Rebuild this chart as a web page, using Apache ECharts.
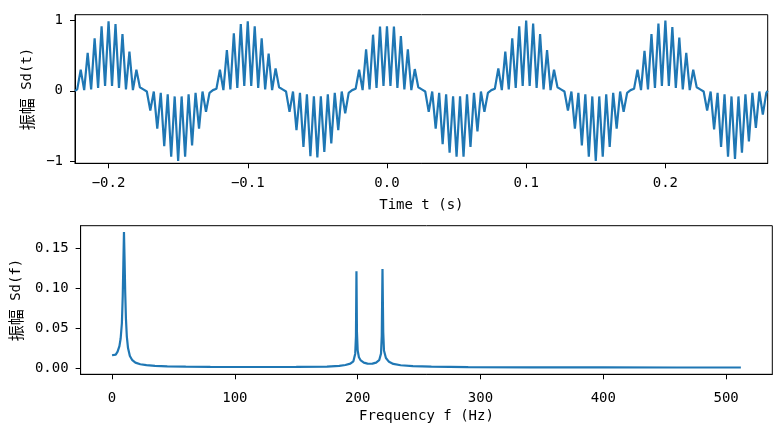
<!DOCTYPE html>
<html><head><meta charset="utf-8">
<script src="https://cdn.jsdelivr.net/npm/echarts@6/dist/echarts.min.js"></script>
<style>html,body{margin:0;padding:0;background:#fff}#c{width:778px;height:427px}</style>
</head><body><div id="c"></div>
<script>
// ---- time-domain signal (seconds, amplitude) ----
const tSig = [
-0.2241,-0.2225,
-0.22,-0.2175,-0.215,-0.2125,-0.21,-0.2075,-0.205,-0.2025,-0.2,-0.1975,-0.195,-0.1925,-0.19,-0.1875,-0.185,-0.1825,-0.18,-0.1775,-0.175,-0.1725,
-0.17,-0.1675,-0.165,-0.1625,-0.16,-0.1575,-0.155,-0.1525,-0.15,-0.1475,-0.145,-0.1425,-0.14,-0.1375,-0.135,-0.1325,-0.13,-0.1275,-0.125,-0.1225,
-0.12,-0.1175,-0.115,-0.1125,-0.11,-0.1075,-0.105,-0.1025,-0.1,-0.0975,-0.095,-0.0925,-0.09,-0.0875,-0.085,-0.0825,-0.08,-0.0775,-0.075,-0.0725,
-0.07,-0.0675,-0.065,-0.0625,-0.06,-0.0575,-0.055,-0.0525,-0.05,-0.0475,-0.045,-0.0425,-0.04,-0.0375,-0.035,-0.0325,-0.03,-0.0275,-0.025,-0.0225,
-0.02,-0.0175,-0.015,-0.0125,-0.01,-0.0075,-0.005,-0.0025,0,0.0025,0.005,0.0075,0.01,0.0125,0.015,0.0175,0.02,0.0225,0.025,0.0275,
0.03,0.0325,0.035,0.0375,0.04,0.0425,0.045,0.0475,0.05,0.0525,0.055,0.0575,0.06,0.0625,0.065,0.0675,0.07,0.0725,0.075,0.0775,
0.08,0.0825,0.085,0.0875,0.09,0.0925,0.095,0.0975,0.1,0.1025,0.105,0.1075,0.11,0.1125,0.115,0.1175,0.12,0.1225,0.125,0.1275,
0.13,0.1325,0.135,0.1375,0.14,0.1425,0.145,0.1475,0.15,0.1525,0.155,0.1575,0.16,0.1625,0.165,0.1675,0.17,0.1725,0.175,0.1775,
0.18,0.1825,0.185,0.1875,0.19,0.1925,0.195,0.1975,0.2,0.2025,0.205,0.2075,0.21,0.2125,0.215,0.2175,0.22,0.2225,0.225,0.2275,
0.23,0.2325,0.235,0.2375,0.24,0.2425,0.245,0.2475,0.25,0.2525,0.255,0.2575,0.26,0.2625,0.265,0.2675,0.27,0.2725,
0.2735
];
const ampSig = [
0.00,0.02,
0.30,0.01,0.54,0.02,0.75,0.04,0.92,0.07,0.99,0.07,0.95,0.04,0.81,0.02,0.56,0.01,0.30,0.05,0.02,-0.01,
-0.28,-0.01,-0.54,-0.03,-0.79,-0.05,-0.94,-0.08,-1.00,-0.08,-0.94,-0.05,-0.78,-0.03,-0.54,-0.01,-0.30,-0.03,0.01,0.03,
0.30,0.01,0.58,0.02,0.82,0.04,0.95,0.07,0.99,0.07,0.92,0.04,0.75,0.02,0.53,0.01,0.32,0.05,0.02,-0.01,
-0.30,-0.01,-0.56,-0.03,-0.80,-0.05,-0.93,-0.08,-0.95,-0.08,-0.87,-0.05,-0.75,-0.03,-0.56,-0.01,-0.32,-0.03,0.01,0.03,
0.30,0.01,0.59,0.02,0.80,0.04,0.915,0.07,0.92,0.07,0.915,0.04,0.78,0.02,0.59,0.01,0.31,0.05,0.02,-0.01,
-0.30,-0.01,-0.54,-0.03,-0.76,-0.05,-0.88,-0.08,-0.94,-0.08,-0.94,-0.05,-0.80,-0.03,-0.58,-0.01,-0.30,-0.03,0.01,0.03,
0.32,0.01,0.56,0.02,0.75,0.04,0.92,0.07,1.00,0.07,0.96,0.04,0.81,0.02,0.58,0.01,0.30,0.05,0.02,-0.01,
-0.28,-0.01,-0.54,-0.03,-0.78,-0.05,-0.94,-0.08,-1.00,-0.08,-0.94,-0.05,-0.80,-0.03,-0.54,-0.01,-0.30,-0.03,0.01,0.03,
0.30,0.01,0.57,0.02,0.81,0.04,0.96,0.07,1.00,0.07,0.91,0.04,0.76,0.02,0.54,0.01,0.30,0.05,0.02,-0.01,
-0.28,-0.01,-0.55,-0.03,-0.80,-0.05,-0.94,-0.08,-0.97,-0.08,-0.88,-0.05,-0.72,-0.03,-0.53,-0.01,-0.34,-0.03,
0.00
];
// ---- spectrum (Hz, amplitude) ----
const freqHz = [0,1.5,3,4.5,6,7,8,8.7,9.2,9.7,10.2,10.7,11.3,12,13,14.5,16.5,19,23,28,35,45,60,80,110,150,175,185,190,194,196.5,198,198.6,199,199.4,200,201,202.5,205,208,210,212,215,217.5,219,219.6,220.2,220.8,221.4,223,225.5,229,235,245,260,290,340,400,460,512];
const ampSpec = [0.0160,0.0155,0.0168,0.0205,0.0275,0.037,0.056,0.09,0.13,0.170,0.135,0.095,0.062,0.040,0.025,0.015,0.0098,0.0068,0.0048,0.0036,0.0028,0.0022,0.0018,0.0015,0.0013,0.0014,0.0019,0.0028,0.0038,0.0055,0.0085,0.018,0.04,0.121,0.045,0.022,0.0135,0.0095,0.0068,0.0056,0.0054,0.0056,0.0068,0.0098,0.018,0.04,0.124,0.045,0.022,0.0125,0.0078,0.0052,0.0035,0.0024,0.0017,0.0012,0.0009,0.0008,0.0007,0.0007];
// ---- tick labels ----
const topXTicks = [-0.2,-0.1,0,0.1,0.2];
const topYTicks = [-1,0,1];
const botXTicks = [0,100,200,300,400,500];
const botYTicks = [0,0.05,0.1,0.15];

const FONT = 'DejaVu Sans Mono';
const CJK = 'Noto Sans CJK SC';
const fmtMinus = s => String(s).replace('-', '\u2212');
const sigData = tSig.map((t,i)=>[t, ampSig[i]]);
const specData = freqHz.map((f,i)=>[f, ampSpec[i]]);

function axis(opts){
  return Object.assign({
    type:'value',
    axisLine:{show:true,onZero:false,lineStyle:{color:'#000',width:1}},
    splitLine:{show:false},
    nameLocation:'middle',
    nameTextStyle:{fontFamily:FONT,fontSize:14,color:'#000',verticalAlign:'middle',
      rich:{cjk:{fontFamily:CJK,fontSize:16,color:'#000'}}}
  }, opts);
}
function ticks(vals){return {show:true,inside:false,length:5,customValues:vals,lineStyle:{color:'#000',width:1}};}
function labels(vals,fmt,margin){return {show:true,customValues:vals,formatter:fmt,margin:margin,fontFamily:FONT,fontSize:14,color:'#000'};}

const chart = echarts.init(document.getElementById('c'), null, {renderer:'canvas'});
chart.setOption({
  animation:false,
  backgroundColor:'#fff',
  grid:[
    {left:75, right:10.3, top:14.7, height:148.6, show:true, borderColor:'#000', borderWidth:1, containLabel:false},
    {left:79.3, right:5.7, top:225.7, height:148.6, show:true, borderColor:'#000', borderWidth:1, containLabel:false}
  ],
  xAxis:[
    axis({gridIndex:0, min:-0.2241, max:0.2735, name:'Time t (s)', nameGap:42,
      axisTick:ticks(topXTicks), axisLabel:labels(topXTicks, v=>fmtMinus(v.toFixed(1)), 13)}),
    axis({gridIndex:1, min:-25.6, max:537.6, name:'Frequency f (Hz)', nameGap:42,
      axisTick:ticks(botXTicks), axisLabel:labels(botXTicks, v=>String(Math.round(v)), 17)})
  ],
  yAxis:[
    axis({gridIndex:0, min:-1.033, max:1.085, name:'{cjk|振幅} Sd(t)', nameRotate:90, nameGap:47,
      axisTick:ticks(topYTicks), axisLabel:labels(topYTicks, v=>fmtMinus(Math.round(v)), 12)}),
    axis({gridIndex:1, min:-0.0078, max:0.178, name:'{cjk|振幅} Sd(f)', nameRotate:90, nameGap:64,
      axisTick:ticks(botYTicks), axisLabel:labels(botYTicks, v=>v.toFixed(2), 12)})
  ],
  series:[
    {type:'line', xAxisIndex:0, yAxisIndex:0, data:sigData, showSymbol:false, symbol:'none',
      lineStyle:{color:'#1f77b4', width:2.2}, clip:true},
    {type:'line', xAxisIndex:1, yAxisIndex:1, data:specData, showSymbol:false, symbol:'none',
      lineStyle:{color:'#1f77b4', width:2.2}, clip:true}
  ]
});
</script></body></html>
